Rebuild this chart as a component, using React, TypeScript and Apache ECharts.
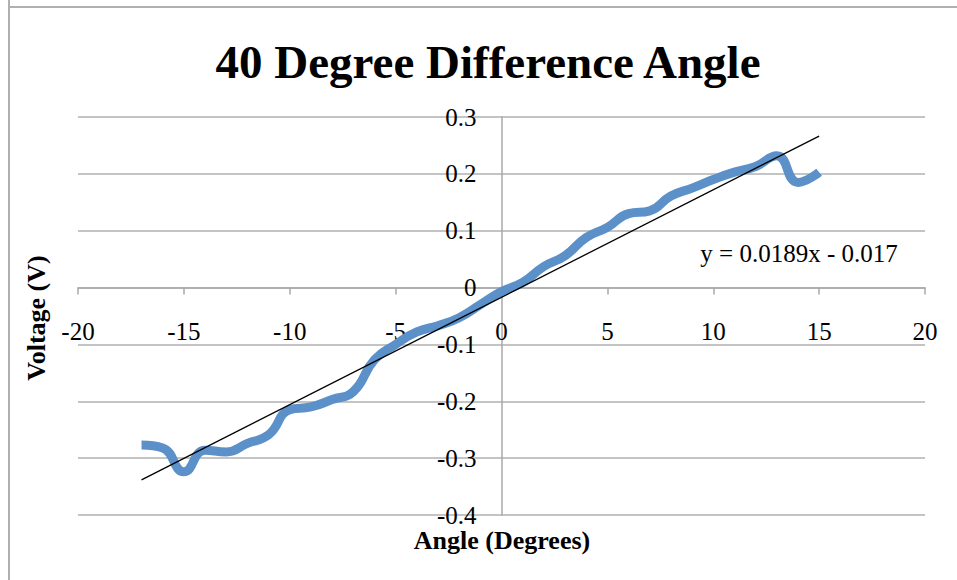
import React, { useEffect, useRef } from "react";
import * as echarts from "echarts";

const angles = [-17, -16, -15, -14, -13, -12, -11, -10, -9, -8, -7, -6, -5, -4, -3, -2, -1, 0, 1, 2, 3, 4, 5, 6, 7, 8, 9, 10, 11, 12, 13, 14, 15];
const voltages = [-0.277, -0.282, -0.324, -0.286, -0.289, -0.274, -0.259, -0.215, -0.21, -0.197, -0.183, -0.127, -0.1, -0.078, -0.067, -0.053, -0.03, -0.007, 0.009, 0.037, 0.056, 0.088, 0.106, 0.13, 0.135, 0.161, 0.175, 0.19, 0.203, 0.213, 0.232, 0.185, 0.203];
const trendSlope = 0.0189;
const trendIntercept = -0.017;
const trendLabel = "y = 0.0189x - 0.017";
const titleText = "40 Degree Difference Angle";
const xTitle = "Angle (Degrees)";
const yTitle = "Voltage (V)";

const SERIF = "'Liberation Serif', 'Times New Roman', serif";

const GRID_LEFT = 78;
const GRID_RIGHT = 32;
const GRID_TOP = 117;
const GRID_BOTTOM = 65;
const X_MIN = -20;
const X_MAX = 20;
const Y_MIN = -0.4;
const Y_MAX = 0.3;

export default function App() {
  const ref = useRef<HTMLDivElement>(null);
  useEffect(() => {
    document.body.style.margin = "0";
    const chart = echarts.init(ref.current!, null, { renderer: "svg" });
    const x0 = angles[0];
    const x1 = angles[angles.length - 1];
    const trend = [
      [x0, trendSlope * x0 + trendIntercept],
      [x1, trendSlope * x1 + trendIntercept],
    ];
    const plotW = 957 - GRID_LEFT - GRID_RIGHT;
    const plotH = 580 - GRID_TOP - GRID_BOTTOM;
    // offsets that put the axes through zero
    const xAxisOffset = -(plotH * (0 - Y_MIN)) / (Y_MAX - Y_MIN);
    const yAxisOffset = -(plotW * (0 - X_MIN)) / (X_MAX - X_MIN);
    chart.setOption({
      animation: false,
      backgroundColor: "#ffffff",
      grid: { left: GRID_LEFT, right: GRID_RIGHT, top: GRID_TOP, bottom: GRID_BOTTOM, containLabel: false },
      xAxis: {
        type: "value",
        min: X_MIN,
        max: X_MAX,
        interval: 5,
        position: "bottom",
        offset: xAxisOffset,
        axisLine: { onZero: false, lineStyle: { color: "#a8a8a8", width: 1.5 } },
        axisTick: { show: true, inside: false, length: 7, lineStyle: { color: "#a8a8a8", width: 1.5 } },
        axisLabel: { margin: 31, fontFamily: SERIF, fontSize: 25, color: "#000" },
        splitLine: { show: false },
      },
      yAxis: {
        type: "value",
        min: Y_MIN,
        max: Y_MAX,
        interval: 0.1,
        position: "left",
        offset: yAxisOffset,
        axisLine: { onZero: false, lineStyle: { color: "#a8a8a8", width: 1.5 } },
        axisTick: { show: false },
        axisLabel: {
          margin: 25,
          fontFamily: SERIF,
          fontSize: 25,
          color: "#000",
          formatter: (v: number) => String(Math.round(v * 10) / 10),
        },
        splitLine: { show: true, lineStyle: { color: "#b0b0b0", width: 1.5 } },
      },
      series: [
        {
          type: "line",
          data: angles.map((a, i) => [a, voltages[i]]),
          smooth: 0.5,
          showSymbol: false,
          lineStyle: { color: "#5b90c9", width: 9 },
          z: 2,
        },
        {
          type: "line",
          data: trend,
          showSymbol: false,
          lineStyle: { color: "#000000", width: 1.3 },
          z: 3,
        },
      ],
      graphic: [
        { type: "line", shape: { x1: 9, y1: 0, x2: 9, y2: 580 }, style: { stroke: "#b0b0b0", lineWidth: 2 } },
        { type: "line", shape: { x1: 9, y1: 7, x2: 957, y2: 7 }, style: { stroke: "#b0b0b0", lineWidth: 2 } },
        {
          type: "text",
          x: 488,
          y: 62,
          style: { text: titleText, font: `bold 47px ${SERIF}`, fill: "#000", textAlign: "center", textVerticalAlign: "middle" },
        },
        {
          type: "text",
          x: 502,
          y: 540,
          style: { text: xTitle, font: `bold 26px ${SERIF}`, fill: "#000", textAlign: "center", textVerticalAlign: "middle" },
        },
        {
          type: "text",
          x: 36,
          y: 318,
          rotation: Math.PI / 2,
          style: { text: yTitle, font: `bold 26px ${SERIF}`, fill: "#000", textAlign: "center", textVerticalAlign: "middle" },
        },
        {
          type: "text",
          x: 799,
          y: 253,
          style: { text: trendLabel, font: `25px ${SERIF}`, fill: "#000", textAlign: "center", textVerticalAlign: "middle" },
        },
      ],
    });
    return () => chart.dispose();
  }, []);
  return <div ref={ref} style={{ width: 957, height: 580 }} />;
}
